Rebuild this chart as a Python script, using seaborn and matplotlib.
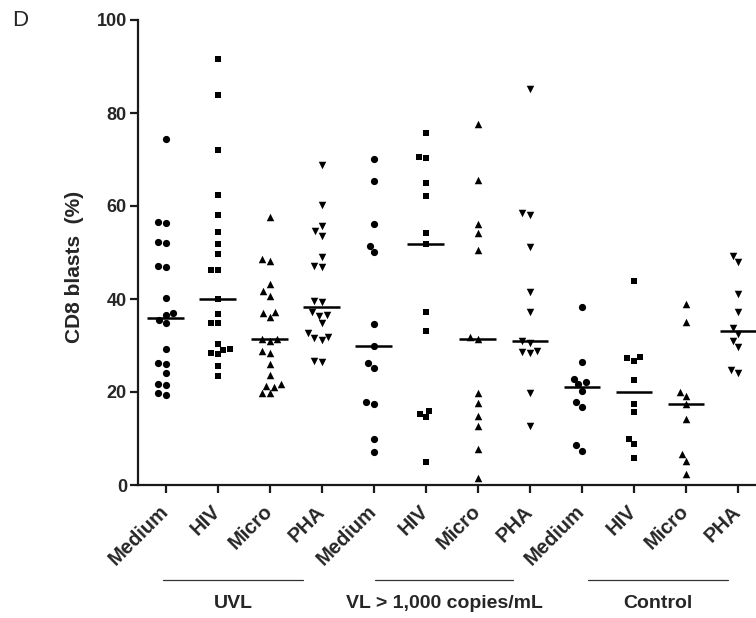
import numpy as np
import pandas as pd
import matplotlib
matplotlib.use('Agg')
import matplotlib.pyplot as plt
import seaborn as sns

sns.set_style('ticks')
plt.rcParams['font.family'] = ['Liberation Sans', 'DejaVu Sans']

# ---------------------------------------------------------------
# DATA (CD8 blasts %)
# ---------------------------------------------------------------
stimuli = ['Medium', 'HIV', 'Micro', 'PHA']
cohorts = ['UVL', 'VL > 1,000 copies/mL', 'Control']

uvl_medium = [74.4, 56.6, 56.4, 52.3, 52.1, 47.1, 46.9, 40.2, 37.0, 36.5, 35.5, 34.8,
              29.2, 26.2, 26.1, 24.0, 21.8, 21.6, 19.4, 19.7]
uvl_hiv = [91.7, 83.8, 72.0, 62.4, 58.0, 54.5, 51.8, 49.6, 46.3, 46.2, 40.0, 36.7,
           34.9, 34.8, 30.3, 29.2, 29.1, 28.3, 28.2, 25.5, 23.4]
uvl_micro = [57.7, 48.7, 48.2, 43.3, 41.7, 40.7, 37.3, 36.9, 36.1, 31.3, 31.3, 31.0,
             28.9, 28.3, 26.0, 23.7, 21.7, 21.2, 21.1, 19.8, 19.7]
uvl_pha = [68.9, 60.3, 55.8, 54.6, 53.6, 49.1, 47.1, 46.8, 39.5, 39.4, 37.1, 36.6,
           36.4, 34.9, 32.6, 31.9, 31.6, 31.1, 26.7, 26.4]

vl_medium = [70.1, 65.4, 56.2, 51.5, 50.1, 34.7, 29.9, 26.3, 25.2, 17.8, 17.5, 9.8, 7.1]
vl_hiv = [75.7, 70.5, 70.4, 65.0, 62.1, 54.1, 51.9, 37.2, 33.1, 15.9, 15.3, 14.6, 4.9]
vl_micro = [77.7, 65.5, 56.2, 54.1, 50.6, 31.8, 31.3, 19.7, 17.6, 14.8, 12.6, 7.7, 1.4]
vl_pha = [85.2, 58.6, 58.1, 51.1, 41.4, 37.2, 31.0, 30.5, 28.8, 28.5, 28.4, 19.7, 12.6]

ctrl_medium = [38.2, 26.4, 22.9, 22.1, 21.7, 20.3, 17.8, 16.8, 8.5, 7.4]
ctrl_hiv = [43.9, 27.5, 27.3, 26.7, 22.6, 17.5, 15.8, 10.0, 8.9, 5.8]
ctrl_micro = [38.9, 35.1, 20.1, 19.1, 17.4, 14.1, 6.6, 5.2, 2.4]
ctrl_pha = [49.2, 48.0, 41.0, 37.3, 33.7, 32.5, 31.0, 29.7, 24.7, 24.0]

values = [uvl_medium, uvl_hiv, uvl_micro, uvl_pha,
          vl_medium, vl_hiv, vl_micro, vl_pha,
          ctrl_medium, ctrl_hiv, ctrl_micro, ctrl_pha]

rows = []
order = []
for ci, cohort in enumerate(cohorts):
    for si, stim in enumerate(stimuli):
        key = cohort + ' | ' + stim
        order.append(key)
        for v in values[ci * 4 + si]:
            rows.append({'cohort': cohort, 'stimulus': stim, 'key': key, 'value': v})
df = pd.DataFrame(rows)

# ---------------------------------------------------------------
# PLOT
# ---------------------------------------------------------------
markers = {'Medium': 'o', 'HIV': 's', 'Micro': '^', 'PHA': 'v'}
sizes = {'Medium': 5.2, 'HIV': 4.8, 'Micro': 5.4, 'PHA': 5.4}

fig = plt.figure(figsize=(7.56, 6.18), dpi=100)
ax = fig.add_axes([138 / 756, 133 / 618, 618 / 756, 465 / 618])

for stim in stimuli:
    sns.swarmplot(data=df[df['stimulus'] == stim], x='key', y='value', order=order,
                  marker=markers[stim], color='black', size=sizes[stim],
                  linewidth=0, ax=ax, zorder=3)

# median bars
for i, key in enumerate(order):
    med = np.median(df.loc[df['key'] == key, 'value'])
    ax.hlines(med, i - 0.35, i + 0.35, color='black', lw=1.8, zorder=4)

ax.set_xlim(-0.53, 11.35)
ax.set_ylim(0, 100)
sns.despine(ax=ax)
for side in ['left', 'bottom']:
    ax.spines[side].set_linewidth(1.6)
    ax.spines[side].set_color('#1a1a1a')

ax.set_yticks(range(0, 101, 20), labels=[str(t) for t in range(0, 101, 20)],
              fontsize=13, fontweight='bold')
ax.set_xticks(range(len(order)), labels=stimuli * 3, rotation=45, ha='right',
              va='center', rotation_mode='anchor', fontsize=14.5, fontweight='bold')
ax.tick_params(axis='both', width=1.6, length=6, color='#1a1a1a', pad=2)
ax.tick_params(axis='x', pad=11)
ax.set_xlabel('')
ax.set_ylabel('CD8 blasts  (%)', fontsize=15, fontweight='bold')
ax.yaxis.set_label_coords(-0.088, 0.47)

# cohort brackets below the stimulus labels
spans = [(-0.05, 2.64), (4.03, 6.68), (8.12, 10.81)]
trans = ax.get_xaxis_transform()
for (x0, x1), cohort in zip(spans, cohorts):
    ax.plot([x0, x1], [-0.204, -0.204], color='#333333', lw=0.9,
            transform=trans, clip_on=False)
    ax.text((x0 + x1) / 2, -0.254, cohort, transform=trans, ha='center', va='center',
            fontsize=14, fontweight='bold')

fig.text(20 / 756, 1 - 20 / 618, 'D', fontsize=16, ha='center', va='center')

fig.savefig('out.png', dpi=100)
